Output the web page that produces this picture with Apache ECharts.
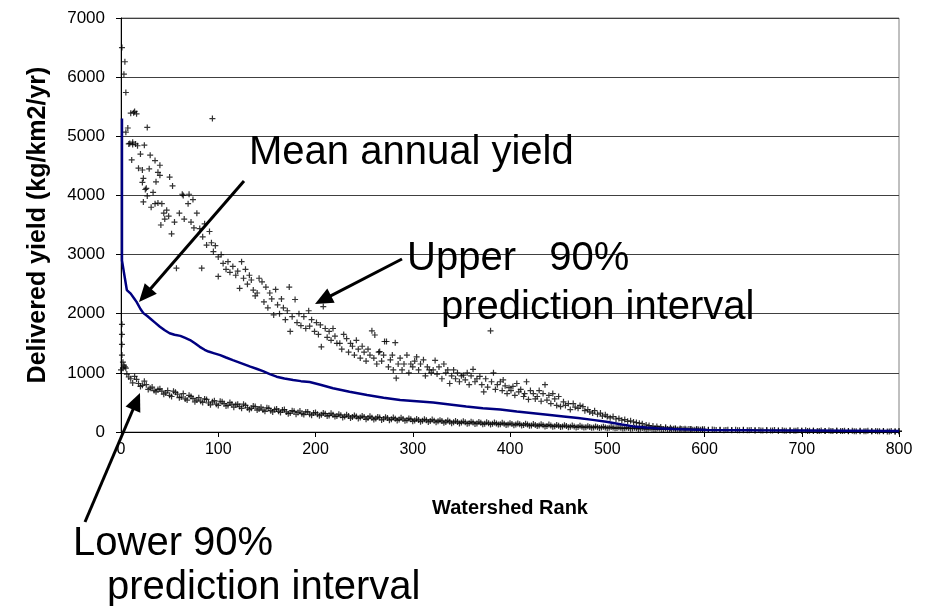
<!DOCTYPE html>
<html>
<head>
<meta charset="utf-8" />
<title>Delivered yield by watershed rank</title>
<script src="https://cdn.jsdelivr.net/npm/echarts@6/dist/echarts.min.js"></script>
<style>
  body { margin: 0; background: #fff; }
  #main { width: 932px; height: 606px; }
</style>
</head>
<body>
<div id="main"></div>
<script type="text/javascript">
// mean annual yield, [rank, kg/km2/yr]
var meanLine = [
  [1,5300],[1,2900],[2,2800],[4,2600],[6,2400],[8,2370],[10,2340],[13,2270],[16,2200],[20,2080],
  [23,2010],[27,1960],[30,1920],[35,1850],[40,1780],[45,1720],[50,1670],[55,1645],[61,1625],[66,1590],
  [71,1555],[76,1500],[81,1440],[86,1390],[90,1360],[96,1330],[102,1300],[108,1260],[115,1215],[124,1160],
  [133,1105],[140,1065],[146,1030],[153,980],[160,935],[168,905],[177,880],[185,860],[194,845],[205,800],
  [218,740],[235,680],[253,625],[270,580],[287,540],[304,520],[321,500],[338,465],[355,430],[372,400],
  [390,380],[407,345],[424,316],[441,287],[455,262],[470,235],[485,205],[499,175],[515,128],[527,95],
  [540,78],[551,65],[568,51],[585,42],[602,35],[650,28],[700,24],[750,20],[800,17]
];

// upper 90% prediction interval, [rank, value]
var upperPoints = [
  [1,6500],[3,6050],[4,6260],[5,5740],[5,5070],[7,5140],[8,4870],[9,4880],[10,5390],[11,4600],
  [12,4860],[12,4900],[13,5400],[14,5420],[15,4870],[16,5380],[17,4840],[18,4460],[20,4700],[22,4430],
  [22,4220],[23,4290],[23,3890],[24,4850],[25,4100],[26,4120],[27,5150],[27,3990],[29,4450],[30,4680],
  [31,3800],[33,4050],[35,4590],[35,3860],[36,4230],[38,4390],[38,3870],[40,4510],[40,4340],[41,3500],
  [42,3860],[44,3700],[45,3600],[47,3750],[49,3650],[50,4310],[52,3350],[53,4160],[55,3550],[57,2770],
  [60,3700],[63,4020],[64,4000],[65,3600],[69,3860],[70,4020],[72,3550],[74,3930],[75,3450],[78,3700],
  [81,3440],[83,2770],[84,3300],[86,3520],[88,3160],[91,3390],[93,3200],[94,5300],[95,3050],[97,3150],
  [100,2960],[100,2630],[103,3000],[105,2850],[108,2750],[110,2880],[112,2700],[115,2800],[118,2650],[120,2720],
  [122,2430],[124,2880],[126,2600],[128,2750],[130,2500],[132,2650],[134,2570],[136,2400],[138,2300],[140,2350],
  [142,2600],[145,2540],[147,2200],[149,2450],[151,2100],[153,2350],[155,2250],[157,1980],[159,2410],[161,2150],
  [163,2000],[165,2250],[167,2100],[169,1900],[171,2050],[173,2450],[174,1700],[176,1950],[179,2240],[181,1850],
  [183,2000],[185,1800],[188,1950],[190,1750],[193,2050],[194,1790],[196,1900],[199,1700],[201,1850],[203,1650],
  [205,1810],[206,1440],[208,2120],[210,1750],[212,1600],[214,1700],[216,1550],[218,1750],[220,1620],[222,1500],
  [225,1500],[227,1400],[229,1650],[232,1580],[234,1350],[236,1500],[238,1450],[240,1300],[242,1550],[244,1400],
  [246,1250],[248,1450],[250,1350],[252,1200],[254,1400],[256,1300],[258,1710],[260,1250],[261,1640],[263,1150],
  [265,1350],[266,1360],[268,1200],[270,1300],[271,1530],[273,1530],[275,1100],[277,1220],[279,1300],[280,1050],
  [282,1510],[283,910],[285,1150],[287,1250],[289,1050],[291,1150],[294,1300],[296,1000],[298,1150],[300,1100],
  [302,1200],[304,1270],[306,1050],[308,1150],[311,1220],[313,950],[315,1100],[317,1050],[319,1000],[321,1050],
  [323,1210],[325,980],[327,1100],[330,900],[332,1150],[334,1000],[336,1050],[338,820],[340,950],[342,1050],
  [344,900],[346,1000],[348,850],[350,950],[352,960],[354,880],[356,1000],[358,800],[360,950],[362,1060],
  [364,850],[366,900],[369,940],[371,800],[373,680],[375,900],[377,760],[380,1710],[381,850],[383,1000],
  [385,720],[387,800],[390,850],[392,700],[393,880],[395,780],[397,650],[399,750],[401,700],[403,770],
  [405,620],[407,820],[409,680],[411,720],[414,600],[415,650],[417,850],[419,550],[421,700],[424,650],
  [426,560],[428,600],[430,700],[432,520],[434,650],[436,800],[438,540],[440,620],[442,480],[444,650],
  [446,560],[448,450],[450,600],[452,430],[455,510],[457,450],[460,480],[462,380],[465,480],[467,420],
  [470,400],[472,450],[475,430],[477,360],[480,380],[482,340],[485,320],[487,360],[490,300],[493,320],
  [495,270],[498,290],[500,260],[503,240],[506,260],[509,220],[512,230],[515,200],[518,210],[521,180],
  [524,190],[527,170],[530,160],[533,150],[536,140],[540,120],[543,110],[547,100],[551,95],[555,85],
  [560,80],[565,70],[570,65],[575,60],[580,55],[586,50],[592,45],[598,45],[604,40],[610,38],
  [616,35],[622,35],[628,32],[634,30],[640,30],[646,28],[652,28],[658,25],[664,25],[670,24],
  [676,22],[682,22],[688,20],[694,20],[700,20],[706,18],[712,18],[718,17],[724,16],[730,16],
  [736,15],[742,15],[748,14],[754,14],[760,13],[766,13],[772,12],[778,12],[784,11],[790,10],
  [796,10],[800,10]
];

// lower 90% prediction interval
// lowerA: ranks 0, 4, 8 ... 800
var lowerA = [
  1050,1100,930,830,890,770,860,720,760,680,
  730,640,700,600,670,580,650,540,600,510,
  580,500,550,460,530,450,510,440,500,420,
  470,400,450,380,440,370,420,350,400,340,
  390,330,380,310,360,300,355,295,340,285,
  330,275,320,270,315,260,300,245,290,235,
  280,230,270,215,265,210,255,205,250,200,
  245,195,240,190,230,180,220,175,215,170,
  210,165,200,155,195,150,185,145,180,140,
  175,135,170,130,165,128,160,125,155,120,
  150,115,145,110,140,105,135,100,130,95,
  125,90,120,85,115,82,110,78,105,75,
  98,70,95,68,90,65,85,62,80,58,
  76,55,72,52,68,50,64,48,60,45,
  58,43,55,42,52,40,50,38,48,36,
  45,34,42,32,40,31,38,30,37,29,
  36,28,35,27,34,26,33,25,32,24,
  31,23,30,22,29,21,28,20,27,19,
  26,18,25,17,24,16,23,15,22,14,
  21,13,20,12,19,11,18,10,17,9,
  15
];
// lowerB: ranks 2, 6, 10 ... 598
var lowerB = [
  1080,980,900,940,820,790,800,740,700,720,
  690,660,620,690,640,590,560,620,570,540,
  520,560,490,510,470,520,480,450,470,460,
  430,470,410,400,430,390,370,410,360,380,
  350,370,340,320,350,330,310,340,300,320,
  300,290,310,280,290,270,285,260,270,255,
  260,245,255,235,240,230,245,220,235,215,
  225,210,220,200,215,195,205,190,200,185,
  190,180,185,170,175,165,170,160,165,150,
  160,145,155,140,150,138,145,132,140,128,
  135,125,130,118,125,112,120,108,115,102,
  110,98,105,95,100,90,95,85,90,80,
  85,78,82,74,78,70,74,66,70,62,
  66,60,63,56,60,53,57,50,54,48,
  51,46,49,44,47,42,45,40,43,38
];
// the few high lower-bound points at the very top ranks
var lowerTop = [[1,1820],[1,1650],[1,1480],[1,1300],[2,1180],[3,1130],[5,1080]];

var lowerPoints = lowerA.map(function (v, i) { return [i * 4, v]; })
  .concat(lowerB.map(function (v, i) { return [2 + i * 4, v]; }))
  .concat(lowerTop);

var plus = 'path://M0,2.4h6v1.2h-6zM2.4,0h1.2v6h-1.2z';
var font = '"Liberation Sans", Arial, sans-serif';

function arrow(x1, y1, x2, y2) {
  var dx = x2 - x1, dy = y2 - y1;
  var len = Math.sqrt(dx * dx + dy * dy);
  var ux = dx / len, uy = dy / len;
  var hl = 18, hw = 8;
  var bx = x2 - ux * hl, by = y2 - uy * hl;
  return [
    { type: 'line', shape: { x1: x1, y1: y1, x2: bx + ux * 2, y2: by + uy * 2 },
      style: { stroke: '#000', lineWidth: 3 }, z: 100 },
    { type: 'polygon', shape: { points: [[x2, y2], [bx - uy * hw, by + ux * hw], [bx + uy * hw, by - ux * hw]] },
      style: { fill: '#000' }, z: 100 }
  ];
}

function label(text, x, y) {
  return { type: 'text', x: x, y: y, z: 100,
    style: { text: text, font: '40px ' + font, fill: '#000', textVerticalAlign: 'top' } };
}

var chart = echarts.init(document.getElementById('main'));
var option = {
  animation: false,
  backgroundColor: '#fff',
  grid: { left: 121, right: 33, top: 18, bottom: 174, show: true, borderColor: '#808080', borderWidth: 1 },
  xAxis: {
    type: 'value', min: 0, max: 800, interval: 100,
    name: 'Watershed Rank', nameLocation: 'middle', nameGap: 66,
    nameTextStyle: { fontFamily: font, fontWeight: 'bold', fontSize: 20, color: '#000' },
    axisLine: { lineStyle: { color: '#000', width: 1 } },
    axisTick: { show: true, length: 5, lineStyle: { color: '#000' } },
    axisLabel: { fontFamily: font, fontSize: 16, color: '#000', margin: 10 },
    splitLine: { show: false }
  },
  yAxis: {
    type: 'value', min: 0, max: 7000, interval: 1000,
    name: 'Delivered yield (kg/km2/yr)', nameLocation: 'middle', nameRotate: 90, nameGap: 70,
    nameTextStyle: { fontFamily: font, fontWeight: 'bold', fontSize: 25, color: '#000' },
    axisLine: { show: true, lineStyle: { color: '#000', width: 1 } },
    axisTick: { show: true, length: 5, lineStyle: { color: '#000' } },
    axisLabel: { fontFamily: font, fontSize: 17, color: '#000', margin: 16,
      formatter: function (v) { return String(v); } },
    splitLine: { show: true, lineStyle: { color: '#404040', width: 1 } }
  },
  series: [
    { name: 'Lower 90% prediction interval', type: 'scatter', data: lowerPoints,
      symbol: plus, symbolSize: 6, itemStyle: { color: '#000' }, z: 2 },
    { name: 'Upper 90% prediction interval', type: 'scatter', data: upperPoints,
      symbol: plus, symbolSize: 6, itemStyle: { color: '#000' }, z: 2 },
    { name: 'Mean annual yield', type: 'line', data: meanLine, showSymbol: false,
      lineStyle: { color: '#000080', width: 2.5 }, z: 3 }
  ],
  graphic: [
    label('Mean annual yield', 249, 133),
    label('Upper   90%', 407, 239),
    label('prediction interval', 441, 288),
    label('Lower 90%', 73, 524),
    label('prediction interval', 107, 568)
  ].concat(arrow(244, 181, 139, 302))
   .concat(arrow(402, 259, 315, 304))
   .concat(arrow(85, 522, 140, 393))
};
chart.setOption(option);
</script>
</body>
</html>
